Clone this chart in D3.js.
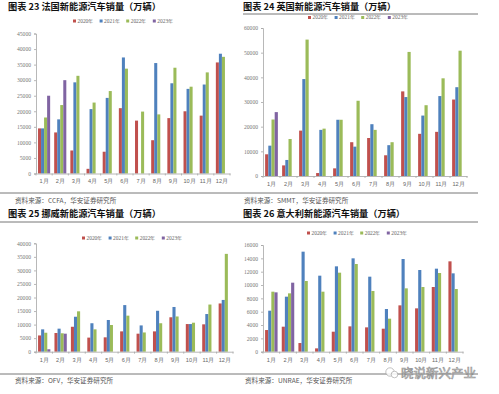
<!DOCTYPE html>
<html><head><meta charset="utf-8">
<script src="https://cdn.jsdelivr.net/npm/d3@7"></script>
<style>
html,body{margin:0;padding:0;background:#fff;}
svg{display:block;font-family:"Noto Sans CJK SC","DejaVu Sans",sans-serif;}
</style></head>
<body>
<svg id="c" width="499" height="394"></svg>
<script>
const months = ["1月","2月","3月","4月","5月","6月","7月","8月","9月","10月","11月","12月"];
const seriesNames = ["2020年","2021年","2022年","2023年"];
const colors = ["#C0504D","#4F81BD","#9BBB59","#8064A2"];

// 法国
const france2020 = [14500,13200,7400,1500,7000,21000,17000,10700,17800,20000,18600,35700];
const france2021 = [14500,17400,29300,20700,24300,37300,null,35500,29000,27200,28600,38500];
const france2022 = [18000,22000,31400,22800,26500,33700,19900,19000,34000,27900,32500,37500];
const france2023 = [25000,30000,null,null,null,null,null,null,null,null,null,null];
const franceTicks = [0,5000,10000,15000,20000,25000,30000,35000,40000,45000];

// 英国
const uk2020 = [8800,4300,18400,1200,3100,13700,15400,8400,34300,17100,17900,31000];
const uk2021 = [12300,6500,39300,18700,22800,11900,21000,12500,32000,24500,32400,36000];
const uk2022 = [22900,15000,55300,19200,22800,30500,18700,13700,50300,28700,39600,50800];
const uk2023 = [25900,null,null,null,null,null,null,null,null,null,null,null];
const ukTicks = [0,10000,20000,30000,40000,50000,60000];

// 挪威
const norway2020 = [6000,6900,9200,5200,5300,7500,6650,7500,12700,10200,10100,17800];
const norway2021 = [8250,8500,12900,10500,11700,17200,9700,15100,16500,10200,13900,19100];
const norway2022 = [7000,6800,14900,8250,9850,13300,7100,10500,13000,10700,17400,36100];
const norway2023 = [900,6650,null,null,null,null,null,null,null,null,null,null];
const norwayTicks = [0,5000,10000,15000,20000,25000,30000,35000,40000];

// 意大利
const italy2020 = [3250,3750,1300,500,3000,3800,3650,3450,6950,6500,9700,13550];
const italy2021 = [6150,8250,15000,11400,12800,14000,11250,6400,13900,12250,12450,11750];
const italy2022 = [9000,8750,10600,9000,11850,13150,9100,4950,9500,9700,11800,9400];
const italy2023 = [8900,10350,null,null,null,null,null,null,null,null,null,null];
const italyTicks = [0,2000,4000,6000,8000,10000,12000,14000,16000];

const svg = d3.select("#c");
const grey = "#a6a6a6";

function drawPanel(p){
  const g = svg.append("g");
  const x = d3.scaleBand().domain(months).range([p.x0,p.x1]).paddingInner(0.25).paddingOuter(0.125);
  const xi = d3.scaleBand().domain(seriesNames).range([0,x.bandwidth()]);
  const y = d3.scaleLinear().domain([0,d3.max(p.ticks)]).range([p.yb,p.yt]);
  p.data.forEach((arr,si)=>{
    g.append("g").selectAll("rect").data(arr.map((v,i)=>({m:months[i],v})).filter(d=>d.v!=null))
      .join("rect")
      .attr("x",d=>x(d.m)+xi(seriesNames[si]))
      .attr("width",xi.bandwidth())
      .attr("y",d=>y(d.v))
      .attr("height",d=>y(0)-y(d.v))
      .attr("fill",colors[si]);
  });
  const ya = g.append("g").attr("transform",`translate(${p.x0},0)`)
    .call(d3.axisLeft(y).tickValues(p.ticks).tickSize(2).tickPadding(3).tickFormat(d=>String(d)));
  ya.select(".domain").attr("stroke",grey).attr("stroke-width",0.8);
  ya.selectAll(".tick line").attr("stroke",grey).attr("stroke-width",0.8);
  ya.selectAll(".tick text").attr("fill","#777").attr("font-size",5.6).attr("font-family","Liberation Serif, serif");
  const xa = g.append("g").attr("transform",`translate(0,${p.yb})`)
    .call(d3.axisBottom(x).tickSize(0).tickPadding(6));
  xa.select(".domain").attr("stroke",grey).attr("stroke-width",0.8);
  xa.selectAll(".tick text").attr("fill","#666").attr("font-size",5.6);
  const step = x.step();
  xa.append("g").selectAll("line").data(d3.range(13)).join("line")
    .attr("x1",i=>p.x0+i*step).attr("x2",i=>p.x0+i*step)
    .attr("y1",0).attr("y2",2).attr("stroke",grey).attr("stroke-width",0.8);
  const lg = g.append("g").attr("transform",`translate(${p.lx},${p.ly})`);
  seriesNames.forEach((s,i)=>{
    const it = lg.append("g").attr("transform",`translate(${i*26.6},0)`);
    it.append("rect").attr("x",0).attr("y",-1.5).attr("width",3).attr("height",3).attr("fill",colors[i]);
    it.append("text").attr("x",4.5).attr("y",0).attr("dy","0.35em").attr("font-size",5.4)
      .attr("fill","#666").attr("font-family","Liberation Serif, serif").text(s);
  });
  svg.append("text").attr("x",p.tx).attr("y",p.ty).attr("dy","0.35em").attr("font-size",9.2)
    .attr("font-weight","bold").attr("fill","#111").text(p.title);
  svg.append("text").attr("x",p.sx).attr("y",p.sy).attr("dy","0.35em").attr("font-size",6.6)
    .attr("fill","#555").text(p.source);
}

drawPanel({x0:36,x1:230,yt:33.5,yb:173.5,ticks:franceTicks,
  data:[france2020,france2021,france2022,france2023],lx:73,ly:21,
  tx:8,ty:7.2,title:"图表 23 法国新能源汽车销量（万辆）",sx:15,sy:201,source:"资料来源：CCFA，华安证券研究所"});
drawPanel({x0:263,x1:467,yt:28,yb:176,ticks:ukTicks,
  data:[uk2020,uk2021,uk2022,uk2023],lx:308,ly:17.5,
  tx:243,ty:7.2,title:"图表 24 英国新能源汽车销量（万辆）",sx:244,sy:201,source:"资料来源：SMMT，华安证券研究所"});
drawPanel({x0:36,x1:233,yt:243.3,yb:351.7,ticks:norwayTicks,
  data:[norway2020,norway2021,norway2022,norway2023],lx:82,ly:238,
  tx:8,ty:213.5,title:"图表 25 挪威新能源汽车销量（万辆）",sx:15,sy:381,source:"资料来源：OFV，华安证券研究所"});
drawPanel({x0:263,x1:463,yt:245,yb:351.7,ticks:italyTicks,
  data:[italy2020,italy2021,italy2022,italy2023],lx:307,ly:233,
  tx:243,ty:213.5,title:"图表 26 意大利新能源汽车销量（万辆）",sx:245,sy:381,source:"资料来源：UNRAE，华安证券研究所"});

const lines = [[243,478,14],[0,478,193],[0,478,222],[0,478,374]];
svg.append("g").selectAll("line").data(lines).join("line")
  .attr("x1",d=>d[0]).attr("x2",d=>d[1]).attr("y1",d=>d[2]).attr("y2",d=>d[2])
  .attr("stroke","#777").attr("stroke-width",1);

const wm = svg.append("g").attr("opacity",0.85);
wm.append("circle").attr("cx",390).attr("cy",372).attr("r",4.2).attr("fill","#fff").attr("stroke","#999").attr("stroke-width",0.7);
wm.append("circle").attr("cx",394.5).attr("cy",374.5).attr("r",3.3).attr("fill","#fff").attr("stroke","#999").attr("stroke-width",0.7);
wm.append("text").attr("x",401).attr("y",373.5).attr("dy","0.35em").attr("font-size",12.5)
  .attr("fill","#fff").attr("stroke","#888").attr("stroke-width",0.7).text("晓说新兴产业");
</script>
</body></html>
